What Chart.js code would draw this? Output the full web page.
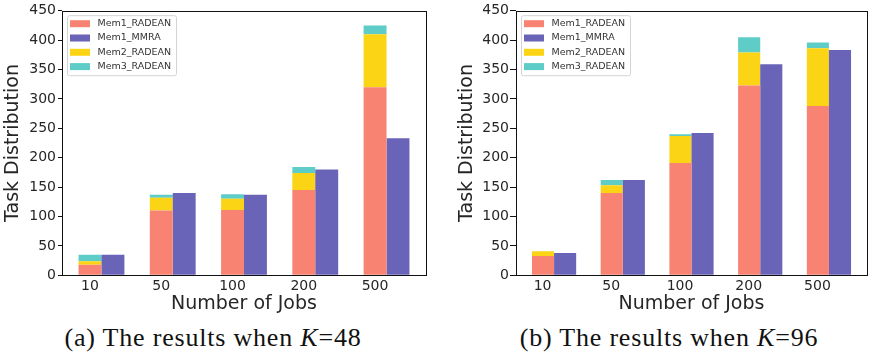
<!DOCTYPE html>
<html>
<head>
<meta charset="utf-8">
<script src="https://cdn.jsdelivr.net/npm/chart.js@4.4.1/dist/chart.umd.min.js"></script>
<style>
  body { margin: 0; background: #fff; width: 882px; height: 355px; position: relative; overflow: hidden; }
  .box { position: absolute; top: 0; width: 441px; height: 320px; }
  .cap { position: absolute; top: 324px; font-family: "Liberation Serif", serif; font-size: 26px; color: #111;
         letter-spacing: 0.8px; white-space: nowrap; transform: translateX(-50%); line-height: 28px; }
</style>
</head>
<body>
<div class="box" style="left:0"><canvas id="chartK48" width="441" height="320"></canvas></div>
<div class="box" style="left:441px"><canvas id="chartK96" width="441" height="320"></canvas></div>
<div class="cap" style="left:213px">(a) The results when <i>K</i>=48</div>
<div class="cap" style="left:669px">(b) The results when <i>K</i>=96</div>
<script>
const jobs = ['10', '50', '100', '200', '500'];
const yMax = 450;
const yStep = 50;

// K = 48
const mem1Radean48 = [18, 110, 111, 145, 320];
const mem2Radean48 = [6, 22, 19, 29, 90];
const mem3Radean48 = [11, 5, 8, 10, 15];
const mem1Mmra48 = [35, 140, 137, 180, 233];

// K = 96
const mem1Radean96 = [33, 140, 191, 323, 288];
const mem2Radean96 = [8, 13, 46, 56, 98];
const mem3Radean96 = [0, 9, 3, 26, 10];
const mem1Mmra96 = [38, 162, 242, 359, 383];

const colors = {
    mem1Radean: '#F88373',
    mem1Mmra: '#6A64B8',
    mem2Radean: '#FBD416',
    mem3Radean: '#5ECDC8'
};

const textColor = '#262626';
const fontFamily = '"DejaVu Sans", sans-serif';
const barW = 0.3217;                      // one bar, in category units
const margin = 0.05 * (jobs.length - 1 + 2 * barW);

// frame around the axes + legend box in the top left corner
const frameAndLegend = {
    id: 'frameAndLegend',
    afterDraw(chart) {
        const { ctx, chartArea: a } = chart;
        ctx.save();
        ctx.strokeStyle = '#111';
        ctx.lineWidth = 1;
        const l = Math.round(a.left) + 0.5, t = Math.round(a.top) + 0.5;
        const r = Math.round(a.right) + 0.5, b = Math.round(a.bottom) + 0.5;
        ctx.strokeRect(l, t, r - l, b - t);

        const x0 = a.left + 5, y0 = a.top + 4.5, w = 109, h = 60;
        ctx.beginPath();
        ctx.roundRect(x0 + 0.5, y0 + 0.5, w, h, 2);
        ctx.fillStyle = 'rgba(255,255,255,0.8)';
        ctx.fill();
        ctx.strokeStyle = '#d4d4d4';
        ctx.stroke();

        ctx.font = '9.5px "DejaVu Sans", sans-serif';
        ctx.textBaseline = 'middle';
        chart.data.datasets.forEach((ds, i) => {
            const cy = y0 + 8.5 + i * 14.3;
            ctx.fillStyle = ds.backgroundColor;
            ctx.fillRect(x0 + 3, cy - 3.5, 20, 7);
            ctx.fillStyle = '#333';
            ctx.fillText(ds.label, x0 + 30.5, cy);
        });
        ctx.restore();
    }
};

function makeChart(canvasId, mem1Radean, mem1Mmra, mem2Radean, mem3Radean, yWidth, titlePad, tickLen, tickPad) {
    const pts = arr => arr.map((v, i) => ({ x: i, y: v }));
    const ctx = document.getElementById(canvasId).getContext('2d');
    return new Chart(ctx, {
        type: 'bar',
        data: {
            datasets: [
                { label: 'Mem1_RADEAN', data: pts(mem1Radean), backgroundColor: colors.mem1Radean, stack: 'radean' },
                { label: 'Mem1_MMRA', data: pts(mem1Mmra), backgroundColor: colors.mem1Mmra, stack: 'mmra' },
                { label: 'Mem2_RADEAN', data: pts(mem2Radean), backgroundColor: colors.mem2Radean, stack: 'radean' },
                { label: 'Mem3_RADEAN', data: pts(mem3Radean), backgroundColor: colors.mem3Radean, stack: 'radean' }
            ]
        },
        options: {
            responsive: false,
            animation: false,
            devicePixelRatio: 1,
            categoryPercentage: 2 * barW,
            barPercentage: 1,
            layout: { padding: { left: 0, right: 441 - 426, top: 0, bottom: 0 } },
            plugins: { legend: { display: false }, tooltip: { enabled: false } },
            scales: {
                x: {
                    type: 'linear',
                    min: -barW - margin,
                    max: jobs.length - 1 + barW + margin,
                    offset: false,
                    afterBuildTicks: s => { s.ticks = jobs.map((_, i) => ({ value: i })); },
                    afterFit: s => { s.height = 320 - 275.3; s.paddingLeft = 0; s.paddingRight = 0; },
                    grid: { display: false, drawTicks: false },
                    border: { display: false },
                    ticks: {
                        callback: v => jobs[v],
                        labelOffset: -11.5,
                        maxRotation: 0,
                        autoSkip: false,
                        padding: 3,
                        color: textColor,
                        font: { family: fontFamily, size: 14 }
                    },
                    title: {
                        display: true,
                        text: 'Number of Jobs',
                        color: textColor,
                        font: { family: fontFamily, size: 19 },
                        padding: { top: 0, bottom: 4.5 }
                    }
                },
                y: {
                    min: 0,
                    max: yMax,
                    afterFit: s => { s.width = yWidth; s.paddingTop = 10.7; s.paddingBottom = 0; },
                    grid: { drawOnChartArea: false, drawTicks: true, tickLength: tickLen, color: '#111' },
                    border: { display: false },
                    ticks: {
                        stepSize: yStep,
                        padding: tickPad,
                        color: textColor,
                        font: { family: fontFamily, size: 14 }
                    },
                    title: {
                        display: true,
                        text: 'Task Distribution',
                        color: textColor,
                        font: { family: fontFamily, size: 19 },
                        padding: { top: titlePad, bottom: 0 }
                    }
                }
            }
        },
        plugins: [frameAndLegend]
    });
}

makeChart('chartK48', mem1Radean48, mem1Mmra48, mem2Radean48, mem3Radean48, 62, 1.6, 4, 2);
makeChart('chartK96', mem1Radean96, mem1Mmra96, mem2Radean96, mem3Radean96, 75, 14.3, 6, 1);
</script>
</body>
</html>
